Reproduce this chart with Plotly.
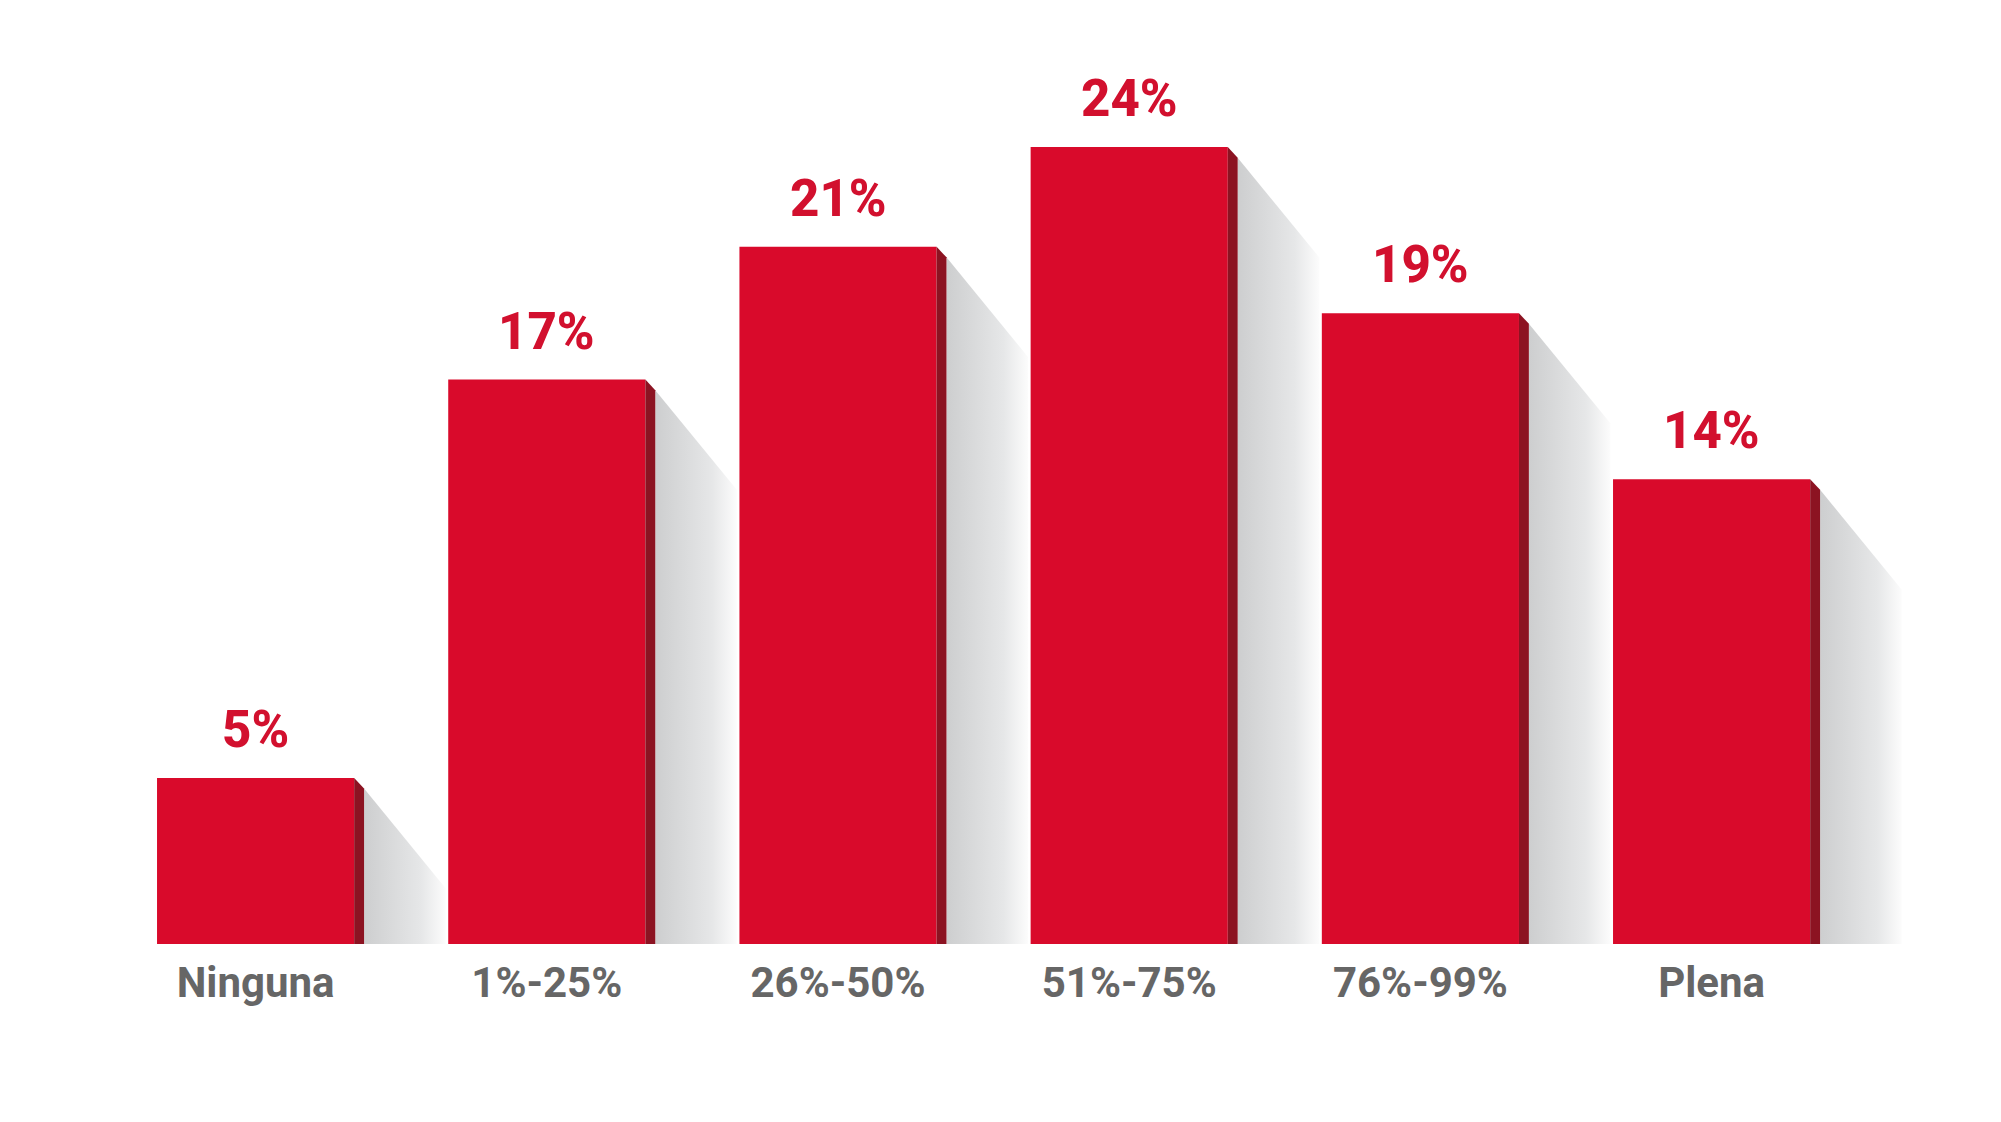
import plotly.graph_objects as go

categories = ["Ninguna", "1%-25%", "26%-50%", "51%-75%", "76%-99%", "Plena"]
values = [5, 17, 21, 24, 19, 14]
value_labels = ["5%", "17%", "21%", "24%", "19%", "14%"]

FRONT = "#d90a2b"
SIDE = "#8c1322"
LABEL_RED = "#d2102e"
TICK_GRAY = "#666666"

BAR_W = 0.677
SIDE_W = 0.034
SIDE_DROP = 0.32
SHADOW_W = 0.28
SHADOW_DROP = 3.0

fig = go.Figure()

xs = list(range(len(categories)))

# shadows
for i, v in zip(xs, values):
    xr = i + BAR_W / 2 + SIDE_W
    px = [xr, xr + SHADOW_W, xr + SHADOW_W, xr, xr]
    py = [v - SIDE_DROP, v - SIDE_DROP - SHADOW_DROP, 0, 0, v - SIDE_DROP]
    fig.add_trace(go.Scatter(
        x=px, y=py, mode="lines", fill="toself", line=dict(width=0),
        fillgradient=dict(type="horizontal",
                          colorscale=[[0, "rgba(205,206,207,1)"], [0.7, "rgba(230,231,232,1)"], [1, "rgba(252,252,252,1)"]]),
        hoverinfo="skip", showlegend=False))

# front faces
fig.add_trace(go.Bar(x=xs, y=values, width=BAR_W, marker=dict(color=FRONT, line=dict(width=0)),
                     showlegend=False, hoverinfo="skip"))

# side faces
for i, v in zip(xs, values):
    xl = i + BAR_W / 2
    xr = xl + SIDE_W
    fig.add_trace(go.Scatter(
        x=[xl, xr, xr, xl, xl], y=[v, v - SIDE_DROP, 0, 0, v], mode="lines", fill="toself",
        fillcolor=SIDE, line=dict(width=0), hoverinfo="skip", showlegend=False))

for i, v, t in zip(xs, values, value_labels):
    fig.add_annotation(x=i, y=v, text=t, showarrow=False, yanchor="bottom", yshift=17,
                       font=dict(family="Roboto", size=51, color=LABEL_RED, weight=800))

fig.update_layout(
    width=2001, height=1122,
    margin=dict(l=102, r=79, t=0, b=186),
    paper_bgcolor="white", plot_bgcolor="white",
    xaxis=dict(range=[-0.5, 5.75], tickvals=xs, ticktext=categories, showgrid=False, zeroline=False,
               showline=False, ticks="", ticklabelstandoff=10,
               tickfont=dict(family="Roboto", size=42, color=TICK_GRAY, weight=700)),
    yaxis=dict(range=[0, 28.19], visible=False, showgrid=False, zeroline=False),
)

fig.write_html("out.html")
